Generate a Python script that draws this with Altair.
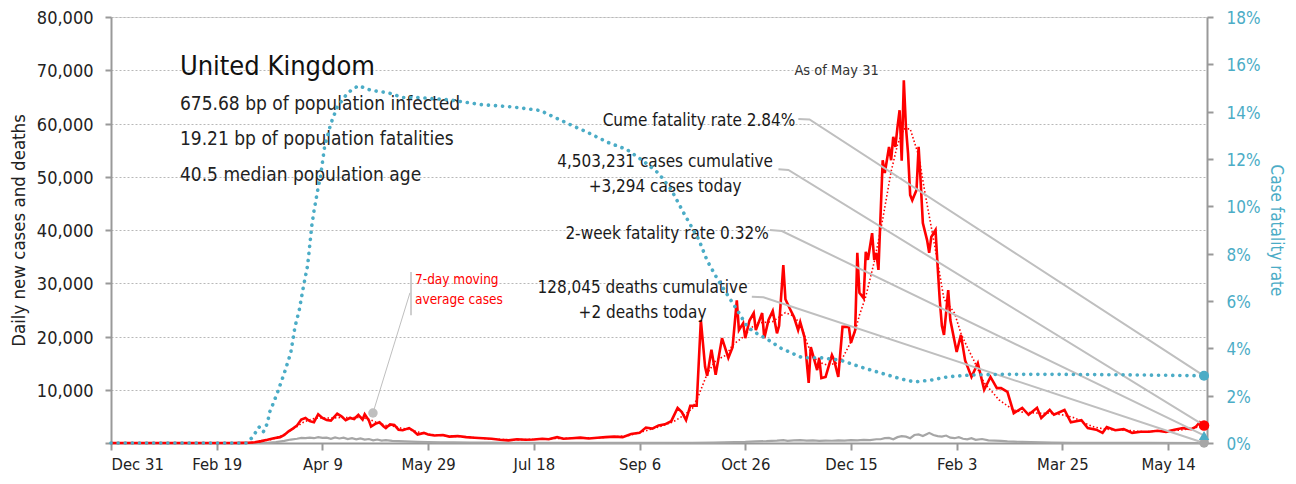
import altair as alt
import pandas as pd

FONT = "Liberation Sans Narrow, DejaVu Sans Condensed, Roboto, sans-serif"

# x values are days since 2019-12-31
cases_daily = [(0,0),(50,0),(58,10),(62,30),(65,60),(68,150),(71,350),(74,600),(77,900),(80,1100),(82,1500),(84,2200),(86,2700),(88,3300),(90,4400),(92,4700),(94,4100),(96,3900),(98,5400),(100,4700),(102,4300),(104,4200),(107,5500),(109,5000),(111,4300),(113,4700),(115,4500),(117,5300),(119,4400),(120,5400),(122,4200),(123,3100),(125,3600),(127,3900),(129,3100),(130,2800),(132,3500),(134,3400),(136,2500),(138,2400),(141,2800),(143,2300),(145,1600),(148,1900),(150,1600),(153,1400),(157,1500),(160,1200),(164,1300),(168,1100),(172,1000),(176,900),(180,800),(184,600),(188,500),(192,700),(196,600),(200,650),(204,800),(207,700),(211,1100),(214,800),(218,900),(222,1000),(226,850),(230,1000),(234,1100),(238,1200),(242,1100),(246,1700),(250,1900),(253,2900),(256,2700),(259,3300),(262,3500),(265,4100),(268,6600),(270,5800),(272,4300),(274,7000),(277,7000),(279,23100),(281,14300),(282,12600),(284,17500),(286,12800),(289,19700),(292,16000),(294,18000),(296,26800),(297,21200),(299,22500),(300,19700),(302,23000),(304,24400),(305,21200),(308,24400),(309,19700),(311,23100),(313,24800),(315,20600),(316,22000),(318,33400),(319,27000),(321,25300),(323,23700),(325,21200),(326,22700),(328,19900),(330,11300),(331,18000),(334,13700),(335,16000),(336,12200),(338,12400),(341,16500),(342,15600),(344,12400),(346,21800),(349,21800),(350,18800),(352,21200),(353,35700),(354,28200),(356,27200),(357,35900),(358,34400),(360,39400),(361,34400),(362,35700),(363,32500),(365,53100),(366,50700),(368,55600),(369,53100),(370,57500),(371,55600),(372,59300),(373,62500),(374,53000),(375,68100),(376,59300),(377,54400),(378,46600),(379,45600),(381,47500),(382,55600),(383,48800),(384,41300),(386,38100),(387,35700),(388,38700),(390,40000),(391,33100),(392,26800),(393,22000),(394,20300),(396,28700),(397,23100),(400,17100),(402,20300),(404,15500),(407,12400),(410,15000),(413,10000),(416,12400),(419,10300),(421,10300),(424,9600),(427,5600),(431,6600),(434,5300),(438,6600),(440,4700),(444,6200),(446,5300),(451,6200),(454,3900),(459,4300),(462,2800),(466,2500),(469,1900),(471,3000),(475,2400),(479,2600),(483,1900),(487,2100),(491,2100),(495,2300),(499,2100),(503,2500),(507,2800),(511,2600),(513,3000),(515,3900),(517,3294)]

cases_ma7 = [(0,0),(60,10),(66,60),(70,200),(74,500),(77,800),(81,1400),(84,2100),(88,3100),(91,3900),(95,4500),(98,4700),(102,4700),(105,4700),(109,4800),(112,4800),(116,4800),(119,4800),(123,4300),(126,3800),(130,3300),(133,3200),(137,2800),(140,2600),(144,2200),(147,1900),(151,1600),(154,1500),(161,1300),(168,1100),(175,900),(182,700),(189,600),(196,650),(203,750),(210,850),(217,900),(224,950),(231,1000),(238,1150),(245,1400),(252,2200),(259,3000),(266,4000),(271,5200),(275,6500),(278,9000),(282,13000),(286,15500),(291,16500),(294,18400),(299,19900),(305,22500),(313,22800),(319,24500),(322,24000),(326,22500),(329,19000),(332,16100),(336,15000),(339,14600),(345,15200),(350,19000),(352,21000),(354,24000),(357,27500),(361,34000),(365,42000),(369,51000),(372,56000),(375,59000),(378,59000),(382,54000),(385,47000),(388,40500),(391,34000),(394,27000),(397,25500),(399,24400),(402,20600),(405,18000),(408,15600),(411,13000),(413,11300),(417,9500),(420,8100),(424,7000),(427,6200),(431,5800),(435,5700),(439,5600),(443,5600),(447,5500),(451,5200),(456,4700),(460,3800),(465,3000),(469,2700),(473,2500),(477,2500),(481,2400),(485,2200),(489,2100),(493,2200),(497,2300),(501,2300),(505,2400),(509,2600),(513,2900),(517,3300)]

deaths_daily = [(0,0),(70,0),(74,40),(78,150),(82,400),(85,650),(88,800),(90,950),(92,900),(94,1000),(96,900),(98,1100),(100,950),(102,1000),(104,800),(106,1050),(108,850),(110,1000),(112,750),(114,900),(116,700),(118,850),(120,650),(122,750),(124,500),(126,650),(128,450),(130,550),(133,400),(136,350),(139,300),(142,250),(145,200),(150,150),(156,130),(162,110),(170,90),(180,60),(190,40),(200,30),(220,20),(240,15),(260,25),(275,50),(285,80),(290,100),(295,150),(300,200),(305,300),(310,350),(315,450),(318,550),(320,400),(323,500),(326,550),(329,450),(332,500),(335,400),(338,450),(341,420),(344,500),(347,450),(350,550),(353,500),(356,600),(359,550),(362,700),(364,700),(366,900),(368,950),(370,700),(372,1100),(374,1300),(376,1200),(378,900),(380,1500),(382,1600),(384,1300),(386,1700),(387,1900),(389,1500),(391,1300),(393,1200),(395,1400),(397,1000),(399,900),(401,1100),(403,800),(405,700),(407,900),(409,600),(412,750),(415,500),(418,450),(421,400),(424,300),(427,250),(431,200),(435,150),(440,100),(445,60),(455,40),(470,20),(490,10),(517,2)]

# case fatality rate, percent
cfr_pct = [(0,0),(64,0),(67,0.25),(70,0.68),(72,0.46),(74,0.84),(75,1.3),(77,1.73),(79,2.2),(82,2.96),(85,3.8),(87,4.9),(89,5.6),(91,6.6),(93,7.5),(95,9.2),(96,9.8),(98,10.8),(99,11.2),(101,12.5),(104,13.5),(107,14.2),(112,14.8),(117,15.1),(123,14.9),(131,14.8),(138,14.6),(145,14.6),(160,14.5),(175,14.3),(190,14.2),(203,14.05),(216,13.5),(226,13.1),(235,12.7),(244,12.4),(252,11.9),(259,11.4),(265,10.7),(271,9.7),(278,8.6),(282,7.7),(287,6.9),(292,6.2),(297,5.5),(301,4.9),(306,4.6),(311,4.35),(317,4.0),(327,3.6),(336,3.6),(345,3.5),(355,3.2),(364,2.96),(374,2.7),(380,2.58),(388,2.66),(396,2.8),(406,2.87),(420,2.9),(450,2.9),(480,2.88),(517,2.84)]

last_day = 517
cases_today = 3294
deaths_today = 2
cume_cfr = 2.84
twoweek_cfr = 0.32

x_tick_days = [0, 50, 100, 150, 200, 250, 300, 350, 400, 450, 500]
left_ticks = [0, 10000, 20000, 30000, 40000, 50000, 60000, 70000, 80000]
right_ticks = [0, 2, 4, 6, 8, 10, 12, 14, 16, 18]

title_text = ["United Kingdom"]
stat_lines = ["675.68 bp of population infected", "19.21 bp of population fatalities", "40.5 median population age"]
callouts = ["As of May 31", "Cume fatality rate 2.84%", "4,503,231 cases cumulative", "+3,294 cases today",
            "2-week fatality rate 0.32%", "128,045 deaths cumulative", "+2 deaths today"]
ma_label = ["7-day moving", "average cases"]

X_MAX = 518.4
L_MAX = 80000
R_MAX = 18
BLUE = "#4BACC6"
RED = "#FF0000"
GRAY = "#A6A6A6"
LEAD = "#BFBFBF"

def df(pairs):
    return pd.DataFrame(pairs, columns=["day", "val"])

x_scale = alt.Scale(domain=[0, X_MAX], nice=False, zero=False)
yl_scale = alt.Scale(domain=[0, L_MAX], nice=False)
yr_scale = alt.Scale(domain=[0, R_MAX], nice=False)

x_axis = alt.Axis(values=x_tick_days, title=None, grid=False,
                  labelExpr="timeFormat(datetime(2019, 11, 31 + datum.value), '%b %-d')",
                  domainColor="#999999", domainWidth=2, tickColor="#999999", tickWidth=2, tickSize=7,
                  labelFontSize=16.5, labelColor="#222222", labelPadding=6, labelFont=FONT)
yl_axis = alt.Axis(values=left_ticks, title="Daily new cases and deaths",
                   labelExpr="datum.value == 0 ? '' : format(datum.value, ',')",
                   grid=True, gridColor="#B8B8B8", gridDash=[2, 2], gridWidth=1,
                   domainColor="#999999", domainWidth=2, tickColor="#999999", tickWidth=2, tickSize=6,
                   labelFontSize=18, labelColor="#222222", labelPadding=12, labelFont=FONT, labelOffset=1.5,
                   titleFont=FONT, titleFontSize=18.5, titleFontWeight="normal", titleColor="#222222",
                   titlePadding=8)
yr_axis = alt.Axis(values=right_ticks, orient="right", title="Case fatality rate",
                   labelExpr="datum.value + '%'", grid=False,
                   domainColor="#999999", domainWidth=2, tickColor="#999999", tickWidth=2, tickSize=6,
                   labelFontSize=17, labelColor=BLUE, labelPadding=13, labelFont=FONT, labelOffset=1.5,
                   titleFont=FONT, titleFontSize=17, titleFontWeight="normal", titleColor=BLUE,
                   titlePadding=7)

def X(f="day"):
    return alt.X(f, type="quantitative", scale=x_scale, axis=x_axis)

def YL(f="val"):
    return alt.Y(f, type="quantitative", scale=yl_scale, axis=yl_axis)

def YR(f="val"):
    return alt.Y(f, type="quantitative", scale=yr_scale, axis=yr_axis)

deaths = alt.Chart(df(deaths_daily)).mark_line(color=GRAY, strokeWidth=2.2).encode(x=X(), y=YL())
daily = alt.Chart(df(cases_daily)).mark_line(color=RED, strokeWidth=2.6).encode(x=X(), y=YL())
ma = alt.Chart(df(cases_ma7)).mark_line(color=RED, strokeWidth=1.6, strokeDash=[1.5, 2.2]).encode(x=X(), y=YL())

# leader lines from callouts to the end-of-series markers (anchor points in data units)
lead_rows = []
for g, pts in enumerate([
        [(325.1, 60850), (330.4, 60750), (last_day, cume_cfr * L_MAX / R_MAX)],
        [(315.7, 51400), (320.4, 51270), (last_day, cases_today)],
        [(311.7, 40000), (317.3, 39810), (last_day, twoweek_cfr * L_MAX / R_MAX)],
        [(303.1, 27470), (308.6, 27360), (last_day, deaths_today)],
]):
    for i, (d, v) in enumerate(pts):
        lead_rows.append({"g": g, "o": i, "day": d, "val": v})
leaders = alt.Chart(pd.DataFrame(lead_rows)).mark_line(color=LEAD, strokeWidth=2).encode(
    x=X(), y=YL(), detail="g:N", order="o:Q")

# 7-day moving average callout
ma_bar = alt.Chart(pd.DataFrame([{"day": 141.9, "val": 24000, "val2": 32100}])).mark_rule(
    color=LEAD, strokeWidth=1.5).encode(x=X(), y=YL(), y2="val2:Q")
ma_diag = alt.Chart(pd.DataFrame([{"day": 141.4, "val": 28200, "day2": 123.9, "val2": 5630}])).mark_rule(
    color=LEAD, strokeWidth=1).encode(x=X(), y=YL(), x2="day2:Q", y2="val2:Q")
ma_dot = alt.Chart(pd.DataFrame([{"day": 123.9, "val": 5630}])).mark_point(
    filled=True, color=LEAD, size=90, opacity=1).encode(x=X(), y=YL())
ma_txt = alt.Chart(pd.DataFrame({"day": [143.8, 143.8], "val": [29900, 26150], "t": ma_label})).mark_text(
    align="left", baseline="alphabetic", color=RED, fontSize=13.5, font=FONT).encode(x=X(), y=YL(), text="t:N")

title = alt.Chart(pd.DataFrame({"day": [32.6], "val": [69100], "t": title_text})).mark_text(
    align="left", baseline="alphabetic", color="#111111", fontSize=27, font=FONT).encode(x=X(), y=YL(), text="t:N")
stats = alt.Chart(pd.DataFrame({"day": [32.6] * 3, "val": [62500, 55960, 49200], "t": stat_lines})).mark_text(
    align="left", baseline="alphabetic", color="#222222", fontSize=19, font=FONT).encode(x=X(), y=YL(), text="t:N")

asof = alt.Chart(pd.DataFrame({"day": [343.2], "val": [69200], "t": callouts[:1]})).mark_text(
    align="center", baseline="alphabetic", color="#333333", fontSize=14.5, font=FONT).encode(x=X(), y=YL(), text="t:N")
notes = alt.Chart(pd.DataFrame({
    "day": [278.1, 262.1, 262.1, 263.0, 251.4, 251.4],
    "val": [59530, 51920, 47230, 38310, 28260, 23470],
    "t": callouts[1:]})).mark_text(
    align="center", baseline="alphabetic", color="#1A1A1A", fontSize=17, font=FONT).encode(x=X(), y=YL(), text="t:N")

red_end = alt.Chart(pd.DataFrame([{"day": last_day, "val": cases_today}])).mark_point(
    filled=True, color=RED, size=110, opacity=1).encode(x=X(), y=YL())
gray_end = alt.Chart(pd.DataFrame([{"day": last_day, "val": deaths_today}])).mark_point(
    filled=True, color=GRAY, size=90, opacity=1).encode(x=X(), y=YL())

cfr = alt.Chart(df(cfr_pct)).mark_line(color=BLUE, strokeWidth=3.6, strokeDash=[0.1, 7],
                                       strokeCap="round").encode(x=X(), y=YR())
blue_end = alt.Chart(pd.DataFrame([{"day": last_day, "val": cume_cfr}])).mark_point(
    filled=True, color=BLUE, size=100, opacity=1).encode(x=X(), y=YR())
tri_end = alt.Chart(pd.DataFrame([{"day": last_day, "val": twoweek_cfr}])).mark_point(
    filled=True, color=BLUE, size=110, opacity=1, shape="triangle-up").encode(x=X(), y=YR())

left = alt.layer(deaths, daily, ma, leaders, ma_bar, ma_diag, ma_dot, ma_txt, title, stats, asof, notes,
                 gray_end, red_end)
right = alt.layer(cfr, blue_end, tri_end)

chart = alt.layer(left, right).resolve_scale(y="independent").properties(
    width=1096, height=426,
    padding={"left": 103, "top": 9, "right": 81, "bottom": 33},
    autosize=alt.AutoSizeParams(type="none"),
    background="white",
).configure_view(stroke=None).configure(font=FONT)

chart.save("out.html", embed_options={"renderer": "svg", "actions": False})
